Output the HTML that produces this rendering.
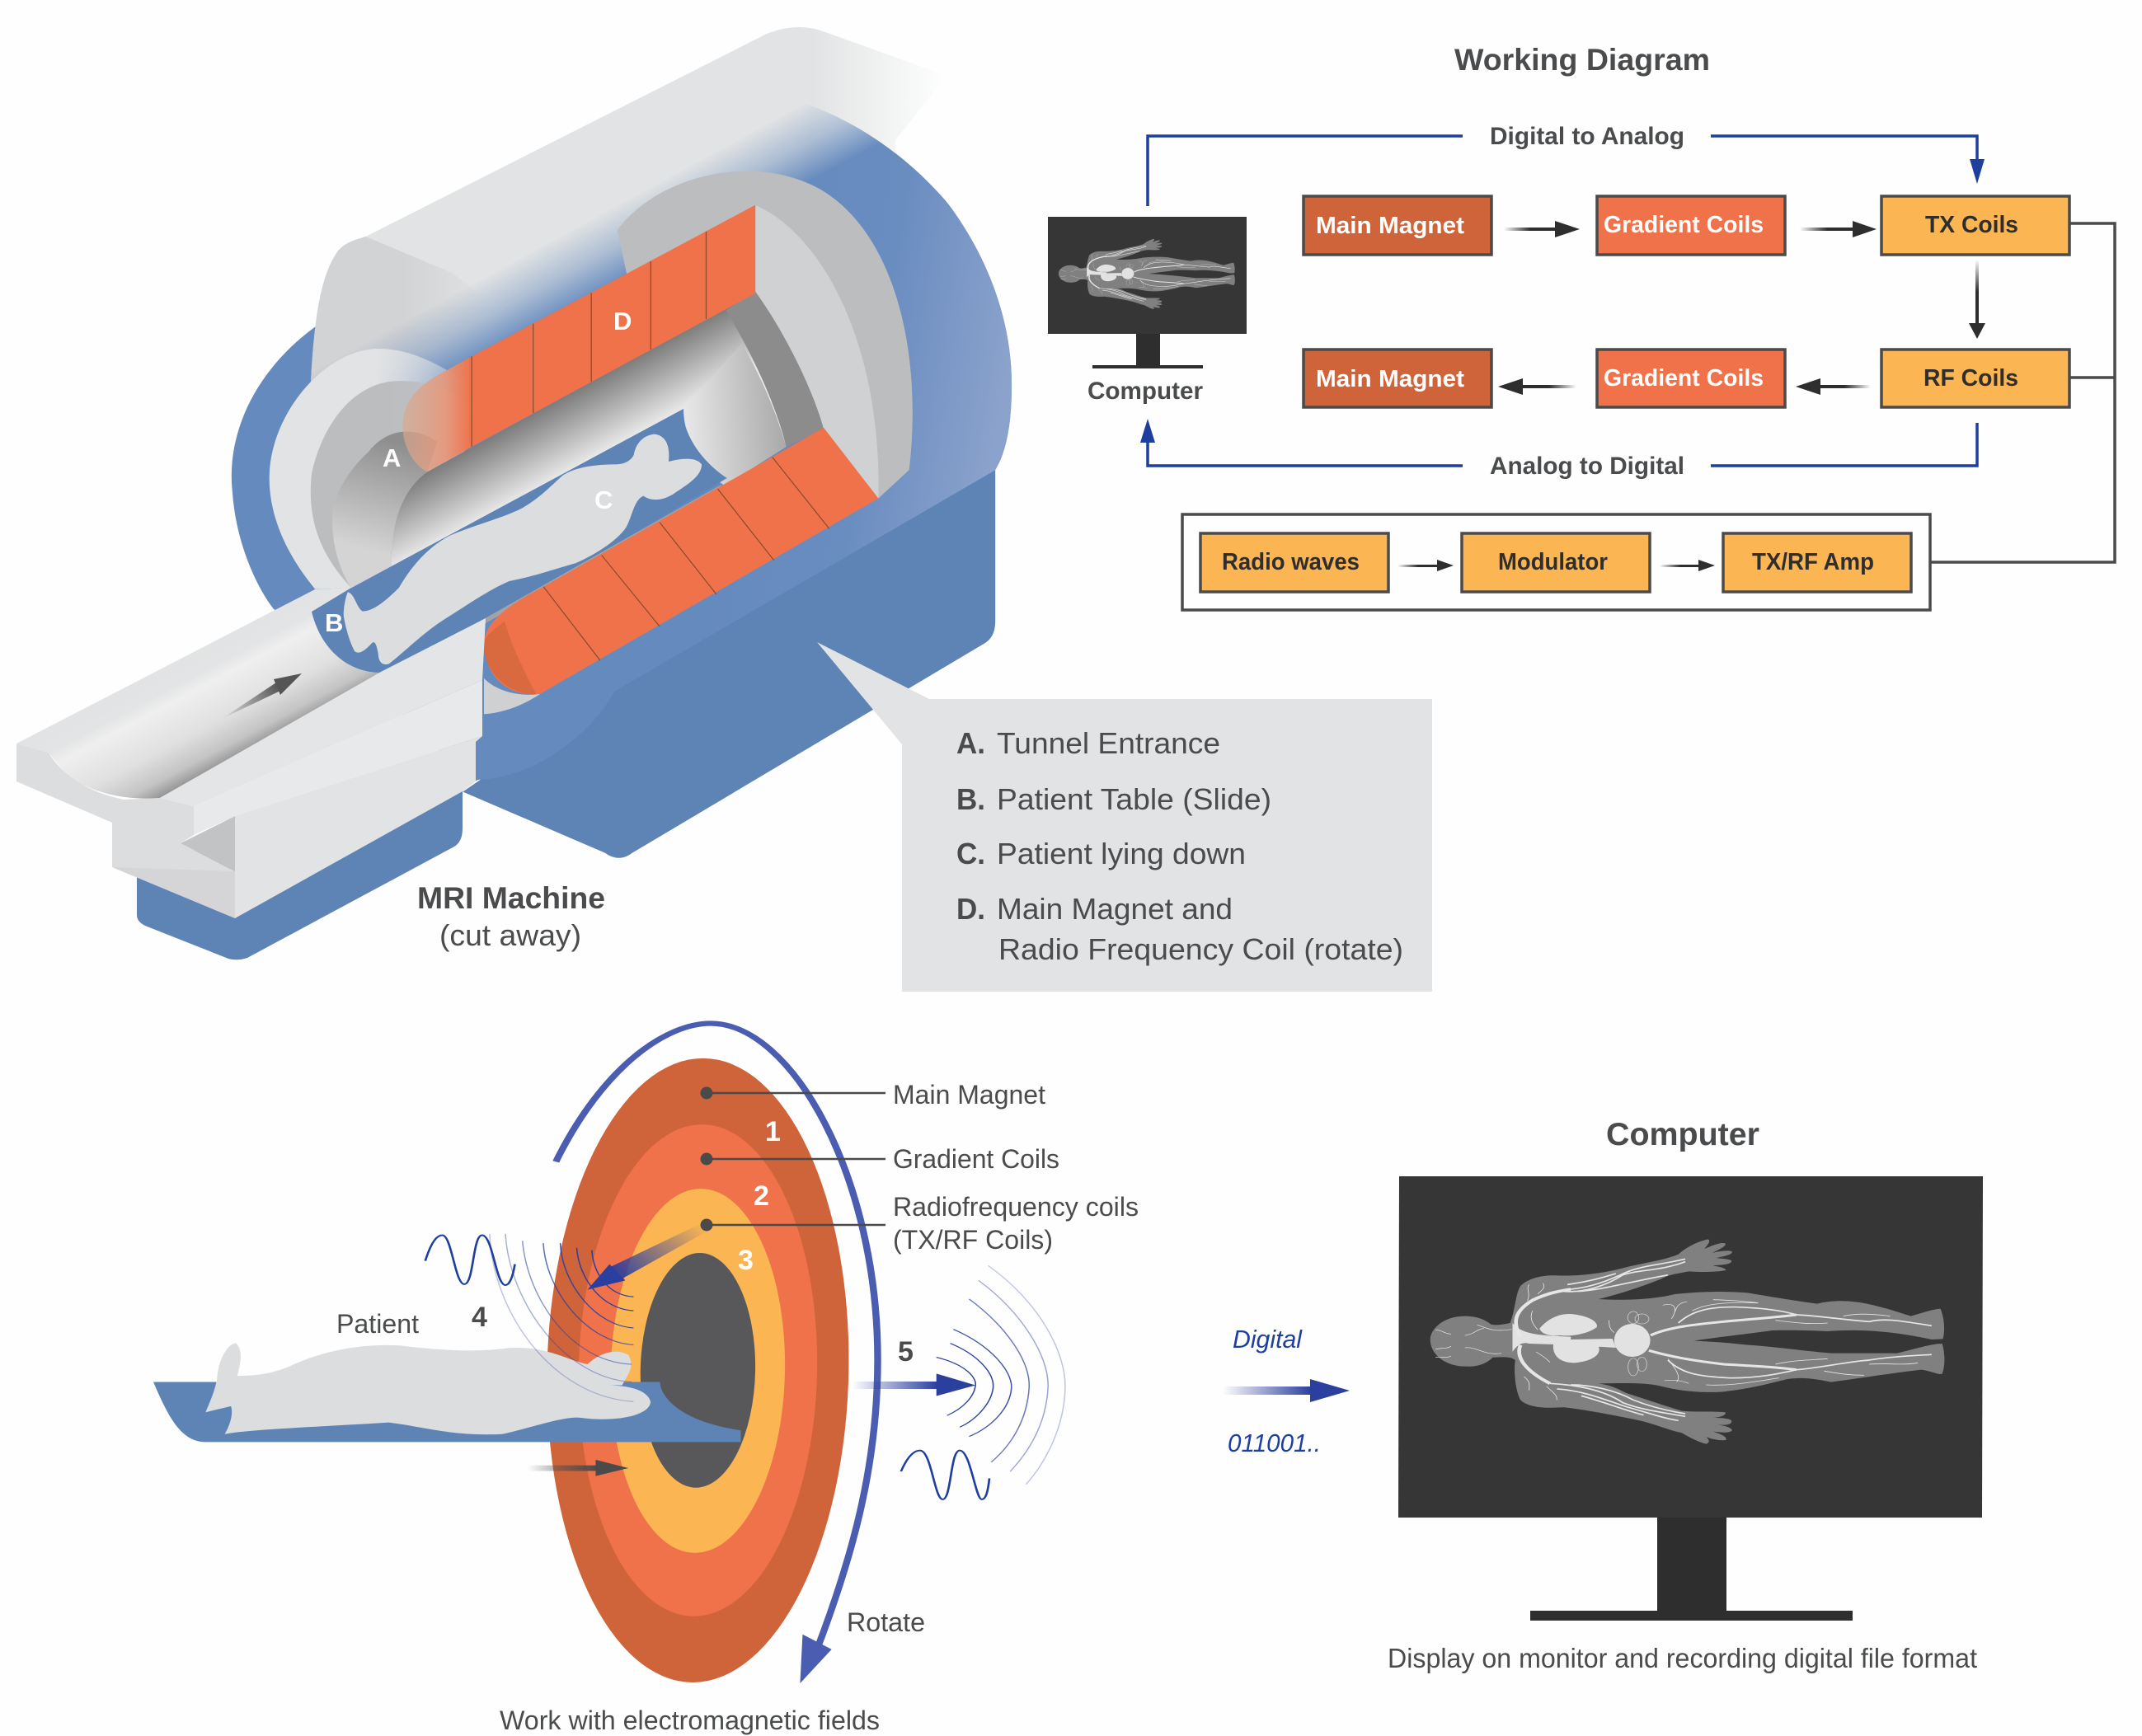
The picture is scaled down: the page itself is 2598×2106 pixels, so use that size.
<!DOCTYPE html>
<html><head><meta charset="utf-8"><style>
html,body{margin:0;padding:0;background:#fefefe}
svg{display:block}
text{font-family:"Liberation Sans",sans-serif;fill:#4a4b4c}
.b{font-weight:700}
.w{fill:#fff}
.d{fill:#2e2e2e}
.bl{fill:#1f3f9e;font-style:italic}
</style></head><body>
<svg xmlns="http://www.w3.org/2000/svg" width="2598" height="2106" viewBox="0 0 2598 2106">
<defs>
<linearGradient id="mg" gradientUnits="userSpaceOnUse" x1="800" y1="386" x2="856" y2="481"><stop offset="0" stop-color="#000"/><stop offset=".5" stop-color="#6a6a6a"/><stop offset="1" stop-color="#fff"/></linearGradient>
<mask id="mf" maskUnits="userSpaceOnUse" x="300" y="0" width="1300" height="1300"><rect x="300" y="0" width="1300" height="1300" fill="url(#mg)"/></mask>
<linearGradient id="bodyg" gradientUnits="userSpaceOnUse" x1="1190" y1="0" x2="1385" y2="0"><stop offset="0" stop-color="#e1e3e4"/><stop offset=".35" stop-color="#eceeee"/><stop offset="1" stop-color="#fefefe"/></linearGradient>
<linearGradient id="disc" gradientUnits="userSpaceOnUse" x1="1100" y1="500" x2="1480" y2="560"><stop offset="0" stop-color="#658abd"/><stop offset=".5" stop-color="#6a8dc0"/><stop offset="1" stop-color="#8ba2cc"/></linearGradient>
<linearGradient id="side" gradientUnits="userSpaceOnUse" x1="590" y1="0" x2="720" y2="0"><stop offset="0" stop-color="#d2d3d5"/><stop offset="1" stop-color="#d2d3d5" stop-opacity="0"/></linearGradient>
<linearGradient id="ringw" gradientUnits="userSpaceOnUse" x1="550" y1="0" x2="690" y2="0"><stop offset="0" stop-color="#e1e3e4"/><stop offset="1" stop-color="#e1e3e4" stop-opacity=".25"/></linearGradient>
<linearGradient id="ringg" gradientUnits="userSpaceOnUse" x1="570" y1="0" x2="700" y2="0"><stop offset="0" stop-color="#bcbdbf"/><stop offset="1" stop-color="#bcbdbf" stop-opacity=".6"/></linearGradient>
<linearGradient id="tun" gradientUnits="userSpaceOnUse" x1="800" y1="645" x2="853" y2="734"><stop offset="0" stop-color="#7d7d7d"/><stop offset="1" stop-color="#e8e8e8"/></linearGradient>
<linearGradient id="elb" gradientUnits="userSpaceOnUse" x1="580" y1="700" x2="530" y2="870"><stop offset="0" stop-color="#8e8e8e"/><stop offset="1" stop-color="#d4d4d4"/></linearGradient>
<linearGradient id="far" gradientUnits="userSpaceOnUse" x1="1000" y1="648" x2="1150" y2="640"><stop offset="0" stop-color="#e8e8e8"/><stop offset="1" stop-color="#a8a8a8"/></linearGradient>
<linearGradient id="fade" gradientUnits="userSpaceOnUse" x1="590" y1="0" x2="690" y2="0"><stop offset="0" stop-color="#dba78e" stop-opacity=".65"/><stop offset=".6" stop-color="#e8987a" stop-opacity=".9"/><stop offset="1" stop-color="#f0724a"/></linearGradient>
<linearGradient id="tr" gradientUnits="userSpaceOnUse" x1="194" y1="811" x2="258" y2="932"><stop offset="0" stop-color="#e1e3e4"/><stop offset=".2" stop-color="#e3e4e5"/><stop offset=".32" stop-color="#efefef"/><stop offset=".65" stop-color="#e0e0e0"/><stop offset=".88" stop-color="#c4c4c4"/><stop offset="1" stop-color="#9a9a9a"/></linearGradient>
<linearGradient id="ga" gradientUnits="userSpaceOnUse" x1="269" y1="872" x2="340" y2="835"><stop offset="0" stop-color="#555" stop-opacity="0"/><stop offset="1" stop-color="#555"/></linearGradient>
<linearGradient id="a1" gradientUnits="userSpaceOnUse" x1="640" y1="0" x2="750" y2="0"><stop offset="0" stop-color="#4a4a4a" stop-opacity="0"/><stop offset="1" stop-color="#4a4a4a"/></linearGradient>
<linearGradient id="a2" gradientUnits="userSpaceOnUse" x1="920" y1="475" x2="770" y2="580"><stop offset="0" stop-color="#2b3f9e" stop-opacity="0"/><stop offset="1" stop-color="#2b3f9e"/></linearGradient>
<linearGradient id="a3" gradientUnits="userSpaceOnUse" x1="1155" y1="0" x2="1290" y2="0"><stop offset="0" stop-color="#2b3f9e" stop-opacity="0"/><stop offset="1" stop-color="#2b3f9e"/></linearGradient>
<linearGradient id="a4" gradientUnits="userSpaceOnUse" x1="1483" y1="0" x2="1590" y2="0"><stop offset="0" stop-color="#2b3f9e" stop-opacity="0"/><stop offset="1" stop-color="#2b3f9e"/></linearGradient>
<linearGradient id="k1" x1="0" y1="0" x2="1" y2="0"><stop offset="0" stop-color="#2e2e2e" stop-opacity="0"/><stop offset=".5" stop-color="#2e2e2e"/></linearGradient>
<linearGradient id="k2" x1="1" y1="0" x2="0" y2="0"><stop offset="0" stop-color="#2e2e2e" stop-opacity="0"/><stop offset=".5" stop-color="#2e2e2e"/></linearGradient>
<linearGradient id="k3" x1="0" y1="0" x2="0" y2="1"><stop offset="0" stop-color="#2e2e2e" stop-opacity="0"/><stop offset=".5" stop-color="#2e2e2e"/></linearGradient>

<g id="body" transform="translate(1720,1490) scale(.4209,.3333)">
<path fill="#808080" d="M210,350 C190,330 165,320 135,320 C70,320 35,370 35,405 C35,460 80,505 140,503 C175,505 200,490 215,470 C240,470 265,465 280,480 C275,520 280,590 295,625 C320,655 370,655 420,652 C480,660 560,680 620,695 C680,710 720,735 760,745 C780,760 810,780 830,785 C845,780 835,765 830,760 C850,770 880,775 888,770 C890,755 860,745 850,740 C880,745 900,745 905,735 C900,720 860,715 860,715 C890,718 905,715 903,700 C895,690 860,690 850,690 C870,688 890,680 885,670 C850,665 800,670 760,665 C720,650 650,620 600,600 C570,580 550,570 520,565 C580,565 650,560 700,575 C760,595 830,600 880,595 C950,585 1000,570 1060,550 C1110,540 1150,550 1190,560 C1280,545 1350,530 1450,515 C1480,520 1500,535 1510,530 C1520,500 1518,450 1510,420 C1480,420 1430,440 1380,455 C1300,455 1250,455 1190,455 C1100,445 1020,430 950,425 C880,415 830,412 795,410 C850,398 950,385 1020,372 C1080,370 1130,372 1180,375 C1260,368 1350,370 1480,405 L1512,403 C1520,370 1515,320 1505,293 C1480,295 1450,310 1420,320 C1370,300 1310,275 1260,268 C1220,262 1180,265 1150,275 C1090,265 1020,250 950,235 C880,228 810,230 740,240 C690,255 620,265 520,258 C580,240 640,215 700,185 C720,170 745,165 780,157 C820,160 870,160 888,152 C880,140 850,138 850,135 C880,135 905,130 903,118 C895,110 860,110 860,108 C890,100 905,95 905,85 C895,78 860,85 848,90 C870,75 890,65 885,55 C870,50 845,65 825,75 C835,60 845,45 835,40 C815,45 775,65 750,95 C700,120 650,125 590,145 C530,165 460,175 400,172 C360,170 320,180 295,210 C280,240 280,300 265,345 C245,350 225,355 210,350Z"/>
<g fill="#e2e2e2">
<path d="M350,365 C370,335 400,310 440,312 C490,318 520,340 515,360 C490,385 440,395 410,390 C380,395 355,385 350,365Z"/>
<path d="M390,420 L520,430 C530,460 500,485 450,490 C410,490 385,465 390,420Z"/>
<path d="M272,345 C300,385 340,390 440,395 L440,405 L560,402 L570,435 L440,425 L320,420 C300,412 285,425 272,450Z"/>
<ellipse cx="617" cy="408" rx="52" ry="60"/>
</g>
<g fill="none" stroke="#e6e6e6">
<path stroke-width="11" d="M295,395 C270,340 280,300 330,262 C370,238 400,230 440,222"/>
<path stroke-width="11" d="M295,425 C280,470 310,520 380,565"/>
<path stroke-width="5" d="M440,222 C500,215 550,190 600,160 C650,135 690,135 770,112 M420,230 C480,235 540,210 590,170 C640,150 700,155 770,122 M430,205 C490,195 530,180 570,165 M460,230 C530,225 610,195 720,170"/>
<path stroke-width="5" d="M380,565 C450,570 530,585 590,635 C640,660 700,670 770,685 M400,585 C470,590 530,620 600,650 C660,670 700,690 750,700 M440,570 C500,570 570,590 620,625 C670,650 720,665 770,675 M470,610 C530,630 590,660 650,680"/>
<path stroke-width="9" d="M670,390 C720,360 800,350 880,340 C960,330 1030,325 1090,315"/>
<path stroke-width="9" d="M665,445 C720,465 780,480 880,495 C950,500 1030,505 1090,515"/>
<path stroke-width="5" d="M1090,315 C1150,318 1240,335 1300,340 C1350,325 1400,340 1480,355 M750,345 C790,300 840,285 920,287 C990,290 1050,300 1090,315 M1090,515 C1150,510 1240,485 1300,480 C1350,470 1400,465 1480,460 M720,480 C760,530 810,540 900,545 C980,545 1040,530 1090,515"/>
<path stroke-width="2.5" d="M850,260 C900,262 940,265 980,272 M1030,335 C1090,345 1130,350 1180,345 M1030,495 C1080,480 1130,480 1180,475 M830,570 C900,575 960,560 1040,545 M1225,320 C1260,310 1300,310 1360,320 M1170,520 C1200,525 1230,535 1285,535 M790,300 C810,290 840,265 980,272 M1300,495 C1350,490 1400,500 1440,490"/>
<path stroke-width="2" d="M135,390 C165,385 170,365 190,365 M50,370 C70,370 75,385 95,385 M135,435 C170,430 190,465 240,455 M170,352 C195,360 210,380 270,368 M50,440 C70,435 80,440 95,430 M50,470 C70,465 80,475 95,465 M315,265 C325,235 310,220 320,205 M360,200 C370,220 350,230 345,240 M305,540 C325,560 320,570 320,590 M370,575 C390,600 400,605 400,625 M705,280 C740,270 750,290 730,330 M775,268 C750,270 745,285 735,320 M720,475 C740,510 760,540 745,560 M710,555 C740,550 760,555 780,565 M330,300 C320,325 330,350 345,370 M340,450 C360,465 370,475 380,488 M550,335 C550,360 555,370 565,380"/>
</g>
<g fill="none" stroke="#cfcfcf" stroke-width="2"><ellipse cx="620" cy="325" rx="16" ry="22"/><ellipse cx="645" cy="330" rx="20" ry="18"/><ellipse cx="620" cy="505" rx="15" ry="32"/><ellipse cx="645" cy="495" rx="14" ry="26"/></g>
</g>
</defs>

<rect width="2598" height="2106" fill="#fefefe"/>

<!-- MRI machine -->
<g transform="scale(.8291,.7653)">
<path fill="#5e84b6" d="M677,1255 L885,1352 Q905,1368 925,1352 L1440,1020 Q1456,1010 1456,985 L1456,745 L900,1090Z"/>
<path fill="url(#disc)" d="M465,515 C380,580 330,680 340,780 C345,860 375,930 400,965 L640,1180 L660,1255 L700,1236 C780,1232 860,1170 900,1095 L1456,745 C1470,720 1480,680 1480,610 C1480,500 1440,400 1387,323 C1330,250 1250,187 1158,157Z"/>
<path fill="url(#bodyg)" d="M455,600 C460,500 470,440 490,405 C500,385 520,380 535,375 L1110,60 C1140,42 1175,38 1205,50 L1385,120 L1310,222 L1300,500 L600,720 L455,720Z"/>
<path fill="url(#side)" d="M455,600 C460,500 470,440 490,405 C500,385 520,380 535,375 L660,432 L720,480 L720,640 L455,640Z"/>
<path fill="url(#disc)" mask="url(#mf)" d="M455,400 L1158,157 C1250,187 1330,250 1387,323 C1440,400 1480,500 1480,610 C1480,680 1470,720 1456,745 L900,1095 L455,1000Z"/>
<path fill="url(#ringw)" d="M710,628 C640,570 590,550 546,553 C470,560 394,660 394,758 C394,820 420,880 461,934 L514,932 L620,800Z"/>
<path fill="url(#ringg)" d="M710,650 C650,610 610,600 569,605 C510,615 470,680 456,750 C450,810 460,870 514,932 L640,800Z"/>
<path fill="url(#elb)" d="M640,700 C610,678 570,675 540,715 C505,750 486,790 486,825 C486,870 500,910 514,932 L572,898 C572,825 590,775 625,748Z"/>
<path fill="#bcbdbf" d="M903,365 C960,280 1100,240 1200,300 C1310,370 1350,560 1330,745 L1285,790 L1205,680 L1105,465 L1105,325 L952,414 L917,435Z"/>
<path fill="#d0d1d3" d="M1105,325 C1200,370 1290,540 1285,790 L1205,680 L1105,462Z"/>
<path fill="url(#tun)" d="M625,748 L1105,462 L1150,708 L1060,770 L1000,648 L572,898 C572,825 590,775 625,748Z"/>
<path fill="url(#far)" d="M1000,648 C1000,690 1020,740 1060,770 L1150,708 C1135,650 1110,590 1085,545Z"/>
<path fill="#8c8c8c" d="M1062,492 L1105,462 C1150,530 1190,620 1205,680 L1150,708 C1135,640 1100,560 1062,492Z"/>
<path fill="#f0724a" d="M690,565 L1105,325 L1105,465 L690,708Z"/>
<path fill="url(#fade)" d="M690,565 L640,595 C600,620 585,650 590,690 C595,720 610,740 625,748 L690,708Z"/>
<g stroke="#8a4a2c" stroke-width="1.5"><path d="M690,565V708M780,513V655M865,464V605M952,414V554M1033,367V506"/></g>
</g>

<!-- tray, band, patient -->
<g transform="translate(300,400) scale(.3827,.3333)">
<path fill="#5e84b6" d="M1380,290 L330,940 L205,1025 C230,1150 300,1240 400,1248 C430,1250 460,1248 480,1235 L760,1060 L1520,540 C1440,480 1380,380 1380,290Z"/>
<path fill="#a0a4a8" d="M600,1150 L1500,565 L1510,575 L630,1150 L520,1215Z"/>
</g>
<g transform="scale(.8291,.7653)">
<path fill="#f0724a" d="M795,930 L1205,678 L1285,790 L790,1100 C750,1105 710,1080 708,1020 C708,985 750,955 795,930Z"/>
<path fill="#d9693f" d="M738,985 C720,1000 706,1010 708,1025 C710,1070 745,1100 785,1102 C770,1070 750,1030 738,985Z"/>
<g stroke="#8a4a2c" stroke-width="1.5"><path d="M795,930L878,1047M880,880L965,993M965,828L1048,942M1050,775L1132,888M1130,725L1213,838"/></g>
<path fill="#cfd0d2" d="M708,1075 C725,1095 760,1105 790,1100 C770,1115 740,1130 708,1132Z"/>
</g>
<g transform="translate(300,400) scale(.3827,.3333)">
<path fill="#dcddde" d="M318,955 C340,960 345,1010 365,1025 C400,1025 440,985 480,940 C510,880 560,800 640,750 C720,710 800,690 870,650 C930,610 960,570 1000,530 C1040,500 1100,490 1170,490 C1190,490 1215,480 1225,455 C1230,420 1250,385 1290,380 C1330,385 1340,430 1335,480 C1370,470 1420,460 1440,490 C1440,530 1400,560 1360,590 C1320,625 1280,625 1255,605 C1225,620 1220,680 1200,720 C1170,770 1100,820 1040,850 C950,880 900,900 830,915 C760,950 700,1000 630,1050 C560,1100 500,1170 450,1215 C430,1225 415,1210 415,1180 C410,1150 405,1130 395,1140 C375,1165 355,1185 340,1170 C325,1140 310,1080 305,1040 C305,1010 310,980 318,955Z"/>
</g>

<!-- table (real coords) -->
<path fill="#5e84b6" d="M166,1050 L166,1110 Q166,1118 176,1123 L277,1163 Q288,1166 300,1162 L551,1027 Q561,1021 561,1005 L561,950Z"/>
<path fill="url(#tr)" d="M20,902 L382,715 L426,713 L378,742 C388,785 420,816 462,816 L194,968 C150,972 100,960 75,933 L59,913Z"/>
<path fill="#dcddde" d="M20,902 L59,913 C70,933 100,960 150,970 L194,968 L235,978 V1013 L219,1023 L285,1057 L285,1114 L136,1052 L136,998 L20,948Z"/>
<path fill="#d0d1d3" d="M136,1052 L285,1057 L285,1114Z" opacity=".6"/>
<path fill="#c2c3c5" d="M219,1023 L285,990 V1057Z"/>
<path fill="#e4e5e6" d="M194,968 L462,815 L589,750 L585,825 L235,978Z"/>
<path fill="#e8e9ea" d="M235,978 L585,825 V893 L285,990 L235,1013Z"/>
<path fill="#e2e3e4" d="M285,990 L585,893 L577,900 V948 L561,960 L285,1114Z"/>
<path fill="url(#ga)" d="M269,872 L335,828 L340,838Z"/>
<path fill="#555" d="M366,817 L332,824 L340,843Z"/>

<text x="464" y="566" class="b w" font-size="31">A</text>
<text x="394" y="766" class="b w" font-size="31">B</text>
<text x="721" y="617" class="b w" font-size="31">C</text>
<text x="744" y="400" class="b w" font-size="31">D</text>

<text x="506" y="1102" class="b" font-size="37" textLength="228" lengthAdjust="spacingAndGlyphs">MRI Machine</text>
<text x="533" y="1147" font-size="36" textLength="172" lengthAdjust="spacingAndGlyphs">(cut away)</text>

<!-- callout -->
<path fill="#e1e3e4" d="M991,779 L1127,848 L1737,848 L1737,1203 L1094,1203 L1094,903Z"/>
<g font-size="36">
<text x="1160" y="914" class="b" textLength="35" lengthAdjust="spacingAndGlyphs">A.</text><text x="1209" y="914" textLength="271" lengthAdjust="spacingAndGlyphs">Tunnel Entrance</text>
<text x="1160" y="982" class="b" textLength="35" lengthAdjust="spacingAndGlyphs">B.</text><text x="1209" y="982" textLength="333" lengthAdjust="spacingAndGlyphs">Patient Table (Slide)</text>
<text x="1160" y="1048" class="b" textLength="35" lengthAdjust="spacingAndGlyphs">C.</text><text x="1209" y="1048" textLength="302" lengthAdjust="spacingAndGlyphs">Patient lying down</text>
<text x="1160" y="1115" class="b" textLength="35" lengthAdjust="spacingAndGlyphs">D.</text><text x="1209" y="1115" textLength="286" lengthAdjust="spacingAndGlyphs">Main Magnet and</text>
<text x="1211" y="1164" textLength="491" lengthAdjust="spacingAndGlyphs">Radio Frequency Coil (rotate)</text>
</g>

<!-- Working diagram -->
<text x="1764" y="85" class="b" font-size="37" textLength="310" lengthAdjust="spacingAndGlyphs">Working Diagram</text>

<path fill="none" stroke="#1f3f9e" stroke-width="3.5" d="M1392,250 V165 H1774 M2075,165 H2398 V200 M2398,513 V565 H2075 M1774,565 H1392 V530"/>
<path fill="#1f3f9e" d="M2389,193 H2407 L2398,223Z M1383,537 H1401 L1392,508Z"/>
<text x="1807" y="175" class="b" font-size="30" textLength="236" lengthAdjust="spacingAndGlyphs">Digital to Analog</text>
<text x="1807" y="575" class="b" font-size="30" textLength="236" lengthAdjust="spacingAndGlyphs">Analog to Digital</text>

<path fill="none" stroke="#4a4a4a" stroke-width="3.5" d="M2510,271 H2565 V682 H2341 M2510,458 H2565"/>
<rect x="1434" y="624" width="907" height="116" fill="none" stroke="#4a4a4a" stroke-width="3.5"/>

<g stroke="#4a4a4a" stroke-width="3.5">
<rect x="1581" y="238" width="228" height="71" fill="#cf6339"/>
<rect x="1937" y="238" width="228" height="71" fill="#f0724a"/>
<rect x="2282" y="238" width="228" height="71" fill="#fbb552"/>
<rect x="1581" y="424" width="228" height="70" fill="#cf6339"/>
<rect x="1937" y="424" width="228" height="70" fill="#f0724a"/>
<rect x="2282" y="424" width="228" height="70" fill="#fbb552"/>
<rect x="1456" y="647" width="228" height="71" fill="#fbb552"/>
<rect x="1773" y="647" width="228" height="71" fill="#fbb552"/>
<rect x="2090" y="647" width="228" height="71" fill="#fbb552"/>
</g>

<g font-size="29" class="b">
<text x="1596" y="283" class="b w" textLength="180" lengthAdjust="spacingAndGlyphs">Main Magnet</text>
<text x="1945" y="282" class="b w" textLength="194" lengthAdjust="spacingAndGlyphs">Gradient Coils</text>
<text x="2335" y="282" class="b d" textLength="113" lengthAdjust="spacingAndGlyphs">TX Coils</text>
<text x="1596" y="469" class="b w" textLength="180" lengthAdjust="spacingAndGlyphs">Main Magnet</text>
<text x="1945" y="468" class="b w" textLength="194" lengthAdjust="spacingAndGlyphs">Gradient Coils</text>
<text x="2333" y="468" class="b d" textLength="115" lengthAdjust="spacingAndGlyphs">RF Coils</text>
<text x="1482" y="691" class="b d" textLength="167" lengthAdjust="spacingAndGlyphs">Radio waves</text>
<text x="1817" y="691" class="b d" textLength="133" lengthAdjust="spacingAndGlyphs">Modulator</text>
<text x="2125" y="691" class="b d" textLength="148" lengthAdjust="spacingAndGlyphs">TX/RF Amp</text>
</g>

<!-- dark arrows -->
<rect x="1824" y="276" width="64" height="4" fill="url(#k1)"/><path fill="#2e2e2e" d="M1886,268 L1916,278 L1886,288Z"/>
<rect x="2183" y="276" width="66" height="4" fill="url(#k1)"/><path fill="#2e2e2e" d="M2247,268 L2276,278 L2247,288Z"/>
<rect x="2396" y="315" width="4" height="78" fill="url(#k3)"/><path fill="#2e2e2e" d="M2388,392 L2408,392 L2398,411Z"/>
<rect x="1845" y="467" width="67" height="4" fill="url(#k2)"/><path fill="#2e2e2e" d="M1847,459 L1817,469 L1847,479Z"/>
<rect x="2205" y="467" width="64" height="4" fill="url(#k2)"/><path fill="#2e2e2e" d="M2208,459 L2178,469 L2208,479Z"/>
<rect x="1695" y="685" width="50" height="3" fill="url(#k1)"/><path fill="#2e2e2e" d="M1743,679 L1763,686 L1743,693Z"/>
<rect x="2013" y="685" width="50" height="3" fill="url(#k1)"/><path fill="#2e2e2e" d="M2060,679 L2080,686 L2060,693Z"/>

<!-- small monitor -->
<rect x="1271" y="263" width="241" height="142" fill="#363636"/>
<rect x="1378" y="405" width="29" height="38" fill="#2e2e2e"/>
<rect x="1325" y="443" width="134" height="4" fill="#2e2e2e"/>
<use href="#body" transform="translate(1284,290) scale(.343) translate(-1735,-1504)"/>
<text x="1319" y="484" class="b" font-size="30" textLength="140" lengthAdjust="spacingAndGlyphs">Computer</text>

<!-- EM diagram -->
<g transform="translate(150,1220) scale(.7653,.565)">
<g transform="matrix(1,0,-.012,1,9.4,0)">
<ellipse cx="910" cy="783" rx="239" ry="670" fill="#cf6339"/>
<ellipse cx="910" cy="783" rx="189" ry="528" fill="#f0724a"/>
<ellipse cx="910" cy="784" rx="138" ry="391" fill="#fbb552"/>
<ellipse cx="910" cy="783" rx="91" ry="252" fill="#58585a"/>
</g>
<path fill="#5e84b6" d="M47,808 L850,808 C850,830 870,890 978,912 L978,937 L130,937 C90,937 70,880 47,808Z"/>
<path fill="#dcddde" d="M178,725 C165,725 150,760 148,800 C145,830 130,870 130,873 L170,860 C175,880 165,910 160,920 C200,910 300,905 420,895 C480,905 520,925 600,920 C650,905 700,880 725,885 C780,895 835,880 835,850 C830,825 800,815 765,815 L790,815 C800,790 810,775 800,750 C780,735 755,745 735,770 C700,760 670,730 610,735 C560,745 500,740 440,730 C380,725 320,740 270,770 C240,790 210,795 180,795 C185,770 190,740 178,725Z"/>
<path fill="none" stroke="#4a5db0" stroke-width="11" d="M685,335 C760,130 860,38 930,38 C1060,38 1195,370 1195,760 C1195,1000 1150,1200 1098,1385"/>
<path fill="#4a5db0" d="M1072,1455 L1076,1350 L1122,1382Z"/>
<g fill="none" stroke="#2b3f9e" stroke-width="2">
<path d="M742,525 C745,580 770,622 808,625"/>
<path d="M718,520 C722,590 760,652 808,655"/>
<path d="M692,510 C695,600 750,688 808,692" opacity=".9"/>
<path d="M665,510 C670,620 740,725 808,728" opacity=".75"/>
<path d="M632,505 C640,630 710,765 805,770" opacity=".55"/>
<path d="M605,490 C612,640 700,800 805,808" opacity=".4"/>
<path d="M580,490 C585,660 680,840 808,850" opacity=".3"/>
<path d="M1288,755 C1335,770 1352,800 1350,815 C1348,840 1330,865 1305,880"/>
<path d="M1310,725 C1355,750 1380,790 1378,820 C1375,855 1350,890 1325,905"/>
<path d="M1315,695 C1375,730 1408,785 1407,820 C1405,865 1375,905 1340,925" opacity=".9"/>
<path d="M1340,630 C1400,690 1437,765 1435,820 C1432,885 1410,940 1375,980" opacity=".7"/>
<path d="M1355,590 C1425,660 1467,755 1465,820 C1462,890 1440,950 1405,1000" opacity=".45"/>
<path d="M1370,558 C1450,635 1495,745 1492,825 C1490,900 1465,975 1430,1028" opacity=".3"/>
</g>
<path fill="url(#a2)" d="M915,468 L925,484 L785,590 L765,565Z"/>
<path fill="#2b3f9e" d="M735,610 L770,555 L795,590Z"/>
<rect x="640" y="987" width="112" height="12" fill="url(#a1)"/>
<path fill="#4a4a4a" d="M800,993 L748,975 L748,1010Z"/>
<rect x="1155" y="807" width="135" height="16" fill="url(#a3)"/>
<path fill="#2b3f9e" d="M1350,815 L1288,790 L1288,838Z"/>
<g fill="none" stroke="#1f3f9e" stroke-width="3.5">
<path d="M478,548 C488,505 497,493 505,493 C520,493 525,598 540,598 C555,598 553,493 568,493 C585,493 590,600 605,600 C612,600 617,580 620,555"/>
<path d="M1232,1000 C1240,975 1250,955 1262,955 C1280,955 1285,1060 1298,1060 C1312,1060 1310,955 1325,955 C1342,955 1350,1060 1360,1060 C1367,1060 1370,1040 1372,1015"/>
</g>
</g>
<g fill="#4a4a4a"><circle cx="857" cy="1326" r="7.5"/><circle cx="857" cy="1406" r="7.5"/><circle cx="857" cy="1486" r="7.5"/></g>
<path stroke="#4a4a4a" stroke-width="2.5" d="M857,1326H1074M857,1406H1074M857,1486H1074"/>
<g font-size="32">
<text x="1083" y="1339" textLength="185" lengthAdjust="spacingAndGlyphs">Main Magnet</text>
<text x="1083" y="1417" textLength="202" lengthAdjust="spacingAndGlyphs">Gradient Coils</text>
<text x="1083" y="1475" textLength="298" lengthAdjust="spacingAndGlyphs">Radiofrequency coils</text>
<text x="1083" y="1515" textLength="194" lengthAdjust="spacingAndGlyphs">(TX/RF Coils)</text>
<text x="408" y="1617" textLength="100" lengthAdjust="spacingAndGlyphs">Patient</text>
<text x="1027" y="1979" textLength="95" lengthAdjust="spacingAndGlyphs">Rotate</text>
<text x="606" y="2098" textLength="461" lengthAdjust="spacingAndGlyphs">Work with electromagnetic fields</text>
</g>
<g font-size="34" class="b">
<text x="928" y="1384" class="b w">1</text>
<text x="914" y="1462" class="b w">2</text>
<text x="895" y="1540" class="b w">3</text>
<text x="572" y="1609" class="b">4</text>
<text x="1089" y="1651" class="b">5</text>
</g>

<!-- Big monitor -->
<path fill="#363636" d="M1697,1427 H2405 L2404,1841 H1696Z"/>
<rect x="2010" y="1841" width="84" height="114" fill="#2e2e2e"/>
<rect x="1856" y="1954" width="391" height="12" fill="#2e2e2e"/>
<use href="#body"/>
<text x="1948" y="1389" class="b" font-size="39" textLength="186" lengthAdjust="spacingAndGlyphs">Computer</text>
<text x="1683" y="2023" font-size="33" textLength="715" lengthAdjust="spacingAndGlyphs">Display on monitor and recording digital file format</text>
<text x="1495" y="1635" class="bl" font-size="31" textLength="84" lengthAdjust="spacingAndGlyphs">Digital</text>
<text x="1489" y="1761" class="bl" font-size="31" textLength="113" lengthAdjust="spacingAndGlyphs">011001..</text>
<rect x="1483" y="1682" width="108" height="10" fill="url(#a4)"/>
<path fill="#2b3f9e" d="M1589,1673 L1637,1687 L1589,1701Z"/>
</svg>
</body></html>
